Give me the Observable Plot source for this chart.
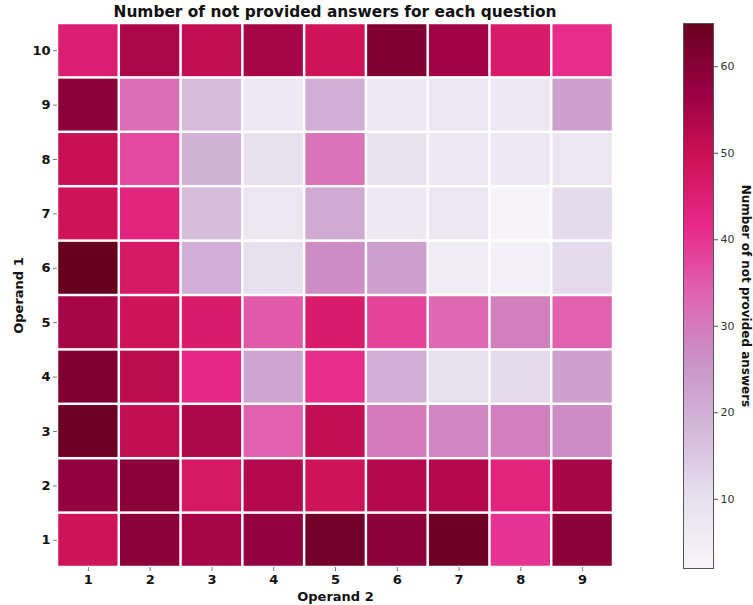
<!DOCTYPE html>
<html>
<head>
<meta charset="utf-8">
<script src="https://cdn.jsdelivr.net/npm/d3@7"></script>
<script src="https://cdn.jsdelivr.net/npm/@observablehq/plot@0.6"></script>
<style>
  body { margin: 0; background: #fff; font-family: "DejaVu Sans", sans-serif; }
  #chart { position: relative; width: 753px; height: 605px; }
  #chart svg { position: absolute; top: 0; overflow: visible; }
  #title {
    position: absolute; left: 57px; width: 556px; top: 3px;
    text-align: center; font-weight: bold; font-size: 15.4px; color: #111;
  }
</style>
</head>
<body>
<div id="chart">
  <div id="title">Number of not provided answers for each question</div>
</div>
<script>
// Operand 2 (columns) and Operand 1 (rows, top to bottom)
const operand2 = [1, 2, 3, 4, 5, 6, 7, 8, 9];
const operand1 = [10, 9, 8, 7, 6, 5, 4, 3, 2, 1];

// Not provided answers per Operand 1 row, indexed by Operand 2
const row10 = [45, 54, 51, 55, 49, 61, 56, 46, 41];
const row9  = [59, 32, 17, 7, 20, 7, 8, 7, 23];
const row8  = [50, 37, 19, 10, 31, 9, 7, 7, 8];
const row7  = [49, 43, 17, 8, 21, 7, 8, 2, 11];
const row6  = [65, 47, 20, 10, 27, 23, 5, 4, 11];
const row5  = [55, 49, 46, 35, 46, 38, 33, 29, 34];
const row4  = [61, 52, 42, 22, 41, 20, 10, 11, 23];
const row3  = [64, 51, 54, 34, 51, 30, 28, 29, 27];
const row2  = [58, 59, 47, 53, 49, 53, 53, 43, 55];
const row1  = [49, 59, 55, 58, 63, 59, 64, 40, 59];

const colorbarTicks = [10, 20, 30, 40, 50, 60];

// PuRd colormap stops (linearly interpolated between them)
const purd = ["#f7f4f9", "#e7e1ef", "#d4b9da", "#c994c7", "#df65b0", "#e7298a", "#ce1256", "#980043", "#67001f"];

const rows = {10: row10, 9: row9, 8: row8, 7: row7, 6: row6, 5: row5, 4: row4, 3: row3, 2: row2, 1: row1};
const table = operand1.flatMap(o1 => operand2.map((o2, i) => ({op1: o1, op2: o2, count: rows[o1][i]})));

const allCounts = table.map(d => d.count);
const [vmin, vmax] = [d3.min(allCounts), d3.max(allCounts)];
const colorScale = {
  type: "linear",
  domain: purd.map((_, i) => vmin + (vmax - vmin) * i / (purd.length - 1)),
  range: purd,
  interpolate: "rgb"
};

const heatmap = Plot.plot({
  width: 640,
  height: 605,
  marginLeft: 57,
  marginRight: 27,
  marginTop: 23,
  marginBottom: 38,
  style: {fontFamily: "DejaVu Sans", fontSize: "13px", fontWeight: "bold", color: "#111", background: "transparent"},
  x: {type: "band", domain: operand2, padding: 0, round: false},
  y: {type: "band", domain: operand1, padding: 0, round: false},
  color: colorScale,
  marks: [
    Plot.cell(table, {x: "op2", y: "op1", fill: "count", inset: 1.25}),
    Plot.axisX({tickSize: 4, tickPadding: 3, stroke: "#777", label: "Operand 2", labelAnchor: "center", labelOffset: 33}),
    Plot.axisY({tickSize: 4, tickPadding: 3, stroke: "#777", label: "Operand 1", labelAnchor: "center", labelOffset: 44})
  ]
});
heatmap.style.left = "0px";
document.getElementById("chart").appendChild(heatmap);

// Vertical colorbar: a fine ramp of the same color scale
const rampStep = 0.25;
const ramp = d3.range(vmin, vmax, rampStep);

const colorbar = Plot.plot({
  width: 83,
  height: 605,
  marginLeft: 13,
  marginRight: 40,
  marginTop: 23,
  marginBottom: 37,
  style: {fontFamily: "DejaVu Sans", fontSize: "11px", color: "#333", background: "transparent"},
  x: {domain: [0, 1], axis: null},
  y: {domain: [vmin, vmax], axis: null},
  color: colorScale,
  marks: [
    Plot.rect(ramp, {x1: 0, x2: 1, y1: d => d, y2: d => Math.min(d + rampStep * 1.4, vmax), fill: d => d}),
    Plot.frame({stroke: "#555"}),
    Plot.axisY(colorbarTicks, {anchor: "right", tickSize: 4, tickPadding: 3, stroke: "#555", label: null}),
    Plot.text(["Number of not provided answers"], {frameAnchor: "right", textAnchor: "middle", rotate: 90, dx: 32, fontWeight: "bold", fontSize: 12, fill: "#111"})
  ]
});
colorbar.style.left = "670px";
document.getElementById("chart").appendChild(colorbar);
</script>
</body>
</html>
